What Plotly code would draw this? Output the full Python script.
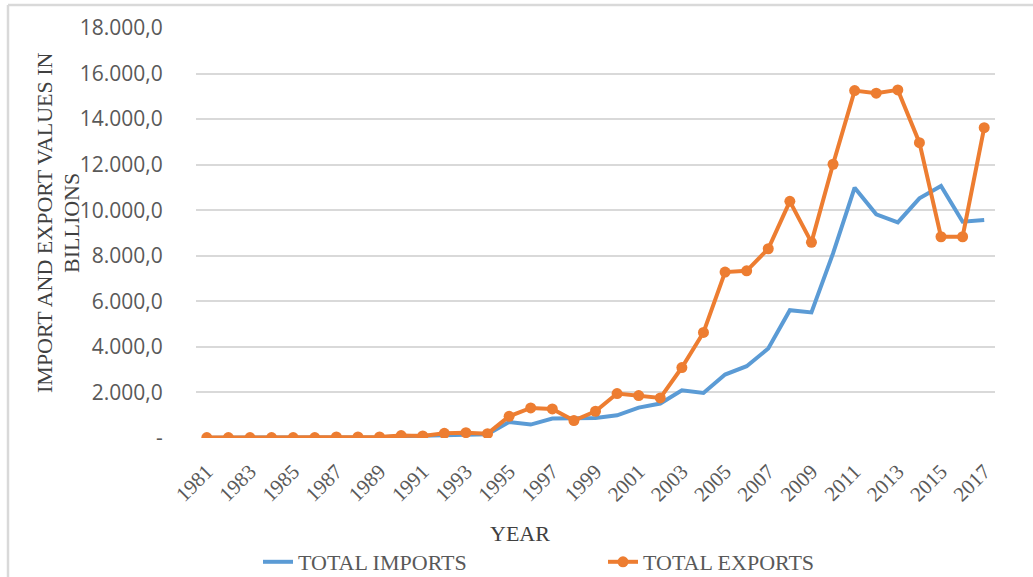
import plotly.graph_objects as go

years = list(range(1981, 2018))
total_imports = [10, 10, 10, 12, 12, 15, 20, 25, 35, 80, 90, 130, 150, 160,
                 703, 589, 852, 852, 879, 998, 1336, 1512, 2096, 1978, 2786,
                 3151, 3929, 5613, 5512, 8105, 10989, 9820, 9468, 10523, 11064,
                 9495, 9569]
total_exports = [20, 20, 20, 20, 20, 20, 45, 45, 45, 105, 90, 205, 235, 190,
                 954, 1319, 1275, 765, 1174, 1952, 1864, 1758, 3094, 4633, 7283,
                 7341, 8308, 10391, 8589, 12018, 15253, 15138, 15283, 12967, 8835,
                 8835, 13626]
y_tickvals = [0, 2000, 4000, 6000, 8000, 10000, 12000, 14000, 16000, 18000]
y_ticktext = ["-", "2.000,0", "4.000,0", "6.000,0", "8.000,0", "10.000,0",
              "12.000,0", "14.000,0", "16.000,0", "18.000,0"]
x_tickvals = years[::2]
y_title_lines = ["IMPORT AND EXPORT VALUES IN", "BILLIONS"]

SERIF = "Liberation Serif"
GRAY = "#595959"
FW, FH = 1033, 577

fig = go.Figure()
fig.add_trace(go.Scatter(x=years, y=total_imports, mode="lines", name="TOTAL IMPORTS",
                         line=dict(color="#5B9BD5", width=4)))
fig.add_trace(go.Scatter(x=years, y=total_exports, mode="lines+markers", name="TOTAL EXPORTS",
                         line=dict(color="#ED7D31", width=4),
                         marker=dict(color="#ED7D31", size=11)))

L, T, W, H = 196, 28, 799, 410
def px2paper(px, py):
    return (px - L) / W, (T + H - py) / H

fig.update_layout(
    width=FW, height=FH,
    margin=dict(l=L, r=FW - L - W, t=T, b=FH - T - H, autoexpand=False),
    paper_bgcolor="white", plot_bgcolor="white",
    showlegend=True,
    legend=dict(orientation="h", xref="container", yref="container",
                x=258 / FW, xanchor="left",
                y=1 - 562 / FH, yanchor="middle",
                font=dict(family=SERIF, size=22, color=GRAY),
                entrywidth=300, entrywidthmode="pixels"),
    xaxis=dict(range=[1980.5, 2017.5], tickvals=x_tickvals, tickangle=-45,
               showgrid=False, zeroline=False, showline=False, automargin=False,
               tickfont=dict(family=SERIF, size=21, color=GRAY),
               ticks="outside", ticklen=12, tickcolor="rgba(0,0,0,0)"),
    yaxis=dict(range=[0, 18000], tickvals=y_tickvals, ticktext=y_ticktext,
               showgrid=True, gridcolor="#D9D9D9", gridwidth=1.5,
               zeroline=False, showline=False, automargin=False,
               tickfont=dict(family="Open Sans", size=21, color=GRAY),
               ticks="outside", ticklen=28, tickcolor="rgba(0,0,0,0)"),
)

# axis titles as annotations
fig.add_annotation(text=y_title_lines[0], xref="paper", yref="paper",
                   x=px2paper(44, 0)[0], y=px2paper(0, 223)[1], textangle=-90,
                   showarrow=False, xanchor="center", yanchor="middle",
                   font=dict(family=SERIF, size=22, color="#404040"))
fig.add_annotation(text=y_title_lines[1], xref="paper", yref="paper",
                   x=px2paper(71, 0)[0], y=px2paper(0, 223)[1], textangle=-90,
                   showarrow=False, xanchor="center", yanchor="middle",
                   font=dict(family=SERIF, size=22, color="#404040"))
fig.add_annotation(text="YEAR", xref="paper", yref="paper",
                   x=px2paper(520, 0)[0], y=px2paper(0, 533)[1],
                   showarrow=False, xanchor="center", yanchor="middle",
                   font=dict(family=SERIF, size=22, color="#404040"))

# chart frame (left and top edges)
x0, y0 = px2paper(8, 5)
x1, y1 = px2paper(1040, 600)
fig.add_shape(type="line", xref="paper", yref="paper", x0=x0, y0=y0, x1=x0, y1=y1,
              line=dict(color="#D9D9D9", width=2.5))
fig.add_shape(type="line", xref="paper", yref="paper", x0=x0, y0=y0, x1=x1, y1=y0,
              line=dict(color="#D9D9D9", width=2.5))

fig.write_html("out.html", config={"displayModeBar": False},
               post_script="document.body.style.margin='0';document.body.style.overflow='hidden';")
